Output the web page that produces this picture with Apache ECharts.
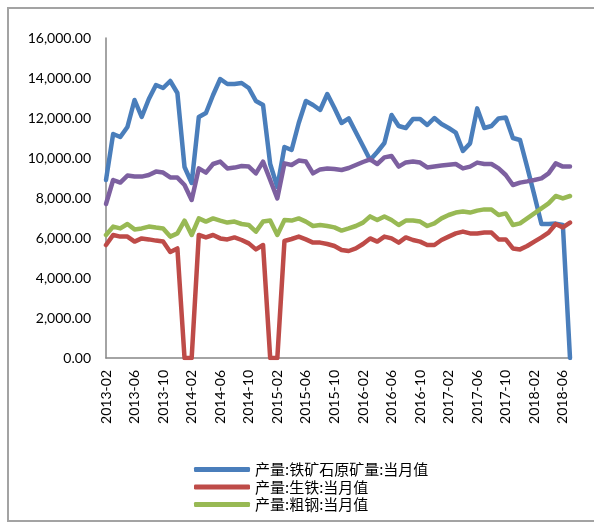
<!DOCTYPE html>
<html>
<head>
<meta charset="utf-8">
<script src="https://cdn.jsdelivr.net/npm/echarts@6/dist/echarts.min.js"></script>
<style>
  html, body { margin: 0; padding: 0; background: #ffffff; }
  #chart { width: 594px; height: 523px; }
</style>
</head>
<body>
<div id="chart"></div>
<script>
// Monthly categories, 2013-02 to 2018-07
const months = [
  '2013-02','2013-03','2013-04','2013-05','2013-06','2013-07','2013-08','2013-09','2013-10','2013-11','2013-12',
  '2014-01','2014-02','2014-03','2014-04','2014-05','2014-06','2014-07','2014-08','2014-09','2014-10','2014-11','2014-12',
  '2015-01','2015-02','2015-03','2015-04','2015-05','2015-06','2015-07','2015-08','2015-09','2015-10','2015-11','2015-12',
  '2016-01','2016-02','2016-03','2016-04','2016-05','2016-06','2016-07','2016-08','2016-09','2016-10','2016-11','2016-12',
  '2017-01','2017-02','2017-03','2017-04','2017-05','2017-06','2017-07','2017-08','2017-09','2017-10','2017-11','2017-12',
  '2018-01','2018-02','2018-03','2018-04','2018-05','2018-06','2018-07'
];

// 产量:铁矿石原矿量:当月值
const ironOre = [
  8900, 11200, 11050, 11550, 12900, 12050, 12950, 13650, 13500, 13850, 13250,
  9550, 8750, 12050, 12250, 13150, 13950, 13700, 13700, 13750, 13500, 12850, 12650,
  9700, 8550, 10550, 10400, 11750, 12850, 12650, 12400, 13200, 12500, 11750, 11980,
  11290, 10600, 9900, 10300, 10750, 12150, 11600, 11500, 11950, 11950, 11650, 12000,
  11700, 11500, 11270, 10350, 10730, 12480, 11500, 11600, 11980, 12030, 11000, 10900,
  9550, 8150, 6700, 6700, 6720, 6650, 0
];

// 产量:生铁:当月值
const pigIron = [
  5650, 6150, 6070, 6070, 5820, 5980, 5930, 5870, 5820, 5300, 5480,
  0, 0, 6150, 6030, 6150, 5980, 5930, 6030, 5900, 5730, 5430, 5650,
  0, 0, 5850, 5950, 6070, 5930, 5770, 5770, 5700, 5600, 5400, 5350,
  5480, 5700, 5980, 5820, 6070, 5980, 5770, 6030, 5900, 5820, 5650, 5650,
  5900, 6070, 6230, 6320, 6230, 6230, 6270, 6270, 5930, 5930, 5480, 5430,
  5600, 5820, 6030, 6270, 6700, 6530, 6770
];

// 产量:粗钢:当月值
const crudeSteel = [
  6150, 6570, 6480, 6700, 6430, 6480, 6570, 6520, 6480, 6070, 6230,
  6870, 6150, 6980, 6820, 6980, 6870, 6770, 6820, 6700, 6650, 6320, 6820,
  6870, 6150, 6900, 6870, 6980, 6820, 6600, 6650, 6600, 6530, 6370, 6480,
  6600, 6770, 7080, 6900, 7080, 6900, 6650, 6870, 6870, 6820, 6600, 6730,
  6980, 7150, 7270, 7320, 7270, 7370, 7430, 7430, 7150, 7230, 6650, 6730,
  6980, 7230, 7480, 7730, 8100, 7980, 8100
];

// 产量:钢材:当月值
const steelProducts = [
  7700, 8900, 8770, 9120, 9070, 9070, 9150, 9320, 9270, 9030, 9020,
  8650, 7900, 9480, 9270, 9700, 9820, 9480, 9520, 9600, 9570, 9230, 9820,
  8900, 7980, 9730, 9650, 9870, 9820, 9230, 9430, 9480, 9450, 9400, 9500,
  9650, 9800, 9930, 9700, 10030, 10100, 9570, 9780, 9820, 9770, 9530, 9580,
  9620, 9660, 9700, 9480, 9570, 9770, 9700, 9700, 9480, 9150, 8650, 8770,
  8830, 8900, 8980, 9230, 9730, 9570, 9570
];

// Value axis ticks
const yTicks = [0, 2000, 4000, 6000, 8000, 10000, 12000, 14000, 16000];

const seriesNames = ['产量:铁矿石原矿量:当月值', '产量:生铁:当月值', '产量:粗钢:当月值', '产量:钢材:当月值'];
const seriesColors = ['#4A7EBB', '#BE4B48', '#98B954', '#7D60A0'];
const seriesData = [ironOre, pigIron, crudeSteel, steelProducts];

const chart = echarts.init(document.getElementById('chart'), null, { renderer: 'canvas' });

const axisGray = '#868686';
const latin = 'Lato, "Liberation Sans", Arial, sans-serif';

chart.setOption({
  animation: false,
  backgroundColor: '#ffffff',
  graphic: [{
    type: 'rect',
    shape: { x: 8, y: 8, width: 640, height: 513 },
    style: { fill: 'none', stroke: '#a3a3a3', lineWidth: 2 },
    silent: true
  }],
  grid: { left: 106, top: 38, right: 24, bottom: 165, containLabel: false },
  legend: {
    data: seriesNames.slice(0, 3),
    orient: 'vertical',
    left: 189,
    top: 456,
    icon: 'roundRect',
    itemWidth: 56,
    itemHeight: 5,
    itemGap: 0.5,
    textStyle: {
      fontFamily: '"Noto Sans CJK SC", sans-serif',
      fontSize: 15,
      lineHeight: 17,
      color: '#000000'
    }
  },
  xAxis: {
    type: 'category',
    data: months,
    boundaryGap: false,
    axisLine: { lineStyle: { color: axisGray, width: 1.5 } },
    axisTick: { show: false },
    splitLine: { show: false },
    axisLabel: {
      interval: 3,
      rotate: 90,
      margin: 12,
      color: '#000000',
      fontFamily: latin,
      fontSize: 14
    }
  },
  yAxis: {
    type: 'value',
    min: yTicks[0],
    max: yTicks[yTicks.length - 1],
    interval: yTicks[1] - yTicks[0],
    axisLine: { show: true, lineStyle: { color: axisGray, width: 1.5 } },
    axisTick: { show: false },
    splitLine: { show: false },
    axisLabel: {
      margin: 15,
      color: '#000000',
      fontFamily: latin,
      fontSize: 14,
      formatter: v => v.toLocaleString('en-US', { minimumFractionDigits: 2, maximumFractionDigits: 2 })
    }
  },
  series: seriesData.map((d, k) => ({
    name: seriesNames[k],
    type: 'line',
    data: d,
    symbol: 'none',
    smooth: false,
    color: seriesColors[k],
    lineStyle: { width: 4.5, color: seriesColors[k], cap: 'round', join: 'round' },
    z: 2 + k
  }))
});
</script>
</body>
</html>
